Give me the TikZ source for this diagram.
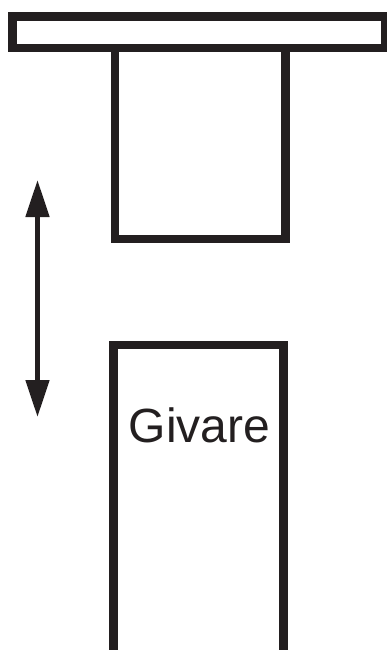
\documentclass[tikz,border=0pt]{standalone}
\usepackage{fontspec}
\setmainfont{Liberation Sans}
\usetikzlibrary{arrows.meta}
\definecolor{ink}{HTML}{231F20}
\tikzset{wall/.style={draw=ink,line width=8.7pt,line cap=butt,line join=miter},
 dbl/.style={line width=5pt,draw=ink,{Triangle[length=37pt,width=23pt]}-{Triangle[length=37pt,width=23pt]}},
 lbl/.style={font=\fontsize{48}{48}\selectfont,text=ink,inner sep=0pt,anchor=base}}
\begin{document}
\begin{tikzpicture}[x=1pt,y=-1pt]
\useasboundingbox (0,0) rectangle (387,650);
\coordinate (at) at (37.5,180);
\coordinate (ab) at (37.5,417);
\draw[wall] (12.5,16.5) rectangle (385.5,48);
\draw[wall] (115,48) -- (115,239) -- (285.5,239) -- (285.5,48);
\draw[wall] (113.7,650) -- (113.7,345) -- (283.5,345) -- (283.5,650);
\draw[dbl] (at) -- (ab);
\node[lbl] (g) at (199.5,442) {Givare};
\end{tikzpicture}
\end{document}
